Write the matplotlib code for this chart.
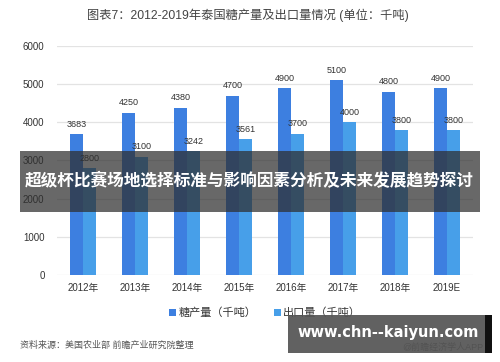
import numpy as np
import matplotlib
matplotlib.use("Agg")
import matplotlib.pyplot as plt
from matplotlib.patches import Rectangle

plt.rcParams['font.family'] = ['Liberation Sans', 'Noto Sans CJK SC', 'DejaVu Sans']

# data
years = ['2012年', '2013年', '2014年', '2015年', '2016年', '2017年', '2018年', '2019E']
production = [3683, 4250, 4380, 4700, 4900, 5100, 4800, 4900]
exports = [2800, 3100, 3242, 3561, 3700, 4000, 3800, 3800]
yticks = [0, 1000, 2000, 3000, 4000, 5000, 6000]

c_prod = '#3d7fe0'
c_exp = '#479fe9'

fig = plt.figure(figsize=(5, 3.62), dpi=100)
ax = fig.add_axes([0.114, 0.2403, 0.832, 0.6327])

x = np.arange(len(years))
w = 0.25
ax.bar(x - w / 2, production, w, color=c_prod, zorder=3, label='糖产量（千吨）')
ax.bar(x + w / 2, exports, w, color=c_exp, zorder=3, label='出口量（千吨）')

for xi, v in zip(x, production):
    ax.text(xi - w / 2, v + 140, str(v), ha='center', va='bottom', fontsize=6.5, color='#333333')
for xi, v in zip(x, exports):
    ax.text(xi + w / 2, v + 140, str(v), ha='center', va='bottom', fontsize=6.5, color='#333333')

ax.set_xlim(-0.5, len(years) - 0.5)
ax.set_ylim(0, 6000)
ax.set_yticks(yticks)
ax.set_xticks(x)
ax.set_xticklabels(years)
ax.tick_params(axis='both', length=0, labelsize=7, colors='#333333')
ax.tick_params(axis='y', pad=9)
ax.tick_params(axis='x', pad=6)
ax.grid(axis='y', color='#e3e3e3', linewidth=0.9, zorder=0)
for s in ax.spines.values():
    s.set_visible(False)

fig.text(0.496, 0.958, '图表7：2012-2019年泰国糖产量及出口量情况 (单位：千吨)',
         ha='center', va='center', fontsize=8.8, color='#444444')

leg = ax.legend(loc='center', bbox_to_anchor=(0.5, -0.165), ncol=2, frameon=False,
                fontsize=8, handlelength=0.6, handleheight=0.6, handletextpad=0.2,
                columnspacing=1.6)
for t in leg.get_texts():
    t.set_color('#333333')

fig.text(0.04, 0.047, '资料来源：美国农业部 前瞻产业研究院整理', ha='left', va='center',
         fontsize=6.5, color='#555555', style='italic')

# overlay banner
fig.patches.append(Rectangle((0.04, 1 - 212 / 362), 0.92, 61 / 362, transform=fig.transFigure,
                             facecolor='#2e2e2e', alpha=0.72, zorder=10))
fig.text(0.498, 1 - 181 / 362, '超级杯比赛场地选择标准与影响因素分析及未来发展趋势探讨',
         ha='center', va='center', fontsize=12, color='white', fontweight='bold',
         family=['Noto Sans CJK SC'], zorder=11)

# bottom-right watermark
fig.text(0.966, 1 - 347 / 362, '@前瞻经济学人APP', ha='right', va='center',
         fontsize=6.5, color='#333333', zorder=9)
fig.patches.append(Rectangle((0.576, 1 - 353 / 362), 0.394, 38 / 362, transform=fig.transFigure,
                             facecolor='#555555', alpha=0.93, zorder=10))
fig.patches.append(Rectangle((0.970, 1 - 353 / 362), 0.014, 38 / 362, transform=fig.transFigure,
                             facecolor='#111111', zorder=10))
fig.text(0.776, 1 - 332 / 362, 'www.chn--kaiyun.com', ha='center', va='center',
         fontsize=10.5, color='white', fontweight='bold', family=['DejaVu Sans'], zorder=11)

fig.savefig('out.png', dpi=100)
